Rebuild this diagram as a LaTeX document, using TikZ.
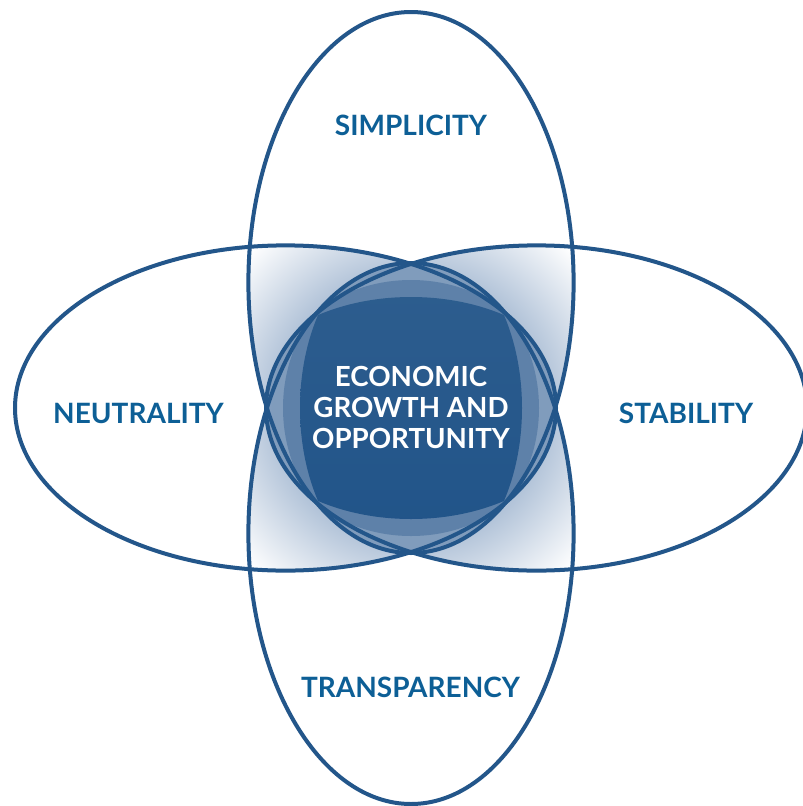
\documentclass[tikz,border=0pt]{standalone}
\usepackage{fontspec}
\setmainfont{Lato}
\newlength{\du}
\setlength{\du}{1pt}
\definecolor{ringblue}{rgb}{0.137255, 0.337255, 0.541176}
\definecolor{labelblue}{rgb}{0.050980, 0.372549, 0.588235}
\definecolor{coreblue}{rgb}{0.117647, 0.309804, 0.521569}
\definecolor{coretop}{rgb}{0.176471, 0.364706, 0.556863}
\definecolor{corebottom}{rgb}{0.129412, 0.329412, 0.537255}
\definecolor{glowblue}{rgb}{0.701961, 0.768627, 0.850980}
\pgfdeclareradialshading{centreglow}{\pgfpointorigin}{color(0bp)=(glowblue); color(15bp)=(glowblue); color(24.5bp)=(white); color(50bp)=(white)}
\tikzset{
  ringline/.style={draw=ringblue, line width=4.000000\du},
  corering/.style={fill=coreblue, fill opacity=0.340000},
  pillar/.style={text=labelblue, font=\fontsize{28}{31}\selectfont\bfseries, inner sep=0pt, anchor=base},
  goal/.style={text=white, font=\fontsize{27.7}{31}\selectfont\bfseries, align=center, inner sep=0pt}
}

\begin{document}
\begin{tikzpicture}
\pgftransformyscale{-1.000000}
\useasboundingbox (0\du,0\du) rectangle (803\du,806\du);
\fill[white] (0\du,0\du) rectangle (803\du,806\du);
% glow where the ovals overlap
\begin{scope}
\clip (411\du,282.5\du) ellipse [x radius=162.6\du, y radius=270.5\du] (411\du,533.5\du) ellipse [x radius=162.6\du, y radius=270.5\du];
\clip (285.5\du,408\du) ellipse [x radius=270.5\du, y radius=162.6\du] (536.5\du,408\du) ellipse [x radius=270.5\du, y radius=162.6\du];
\shade[shading=centreglow] (411\du,408\du) circle (230\du);
\end{scope}
\fill[corering] (411\du,408\du) ellipse [x radius=144\du, y radius=128\du];
\fill[corering] (411\du,408\du) ellipse [x radius=128\du, y radius=144\du];
\begin{scope}
\clip (411\du,408\du) ellipse [x radius=170\du, y radius=111\du];
\clip (411\du,408\du) ellipse [x radius=111\du, y radius=170\du];
\shade[top color=coretop, bottom color=corebottom] (290\du,290\du) rectangle (530\du,530\du);
\end{scope}
\draw[ringline] (411\du,282.5\du) ellipse [x radius=162.6\du, y radius=270.5\du];
\draw[ringline] (411\du,533.5\du) ellipse [x radius=162.6\du, y radius=270.5\du];
\draw[ringline] (285.5\du,408\du) ellipse [x radius=270.5\du, y radius=162.6\du];
\draw[ringline] (536.5\du,408\du) ellipse [x radius=270.5\du, y radius=162.6\du];
\node[pillar] (simplicity) at (411\du,135\du) {SIMPLICITY};
\node[pillar] (transparency) at (410.5\du,697\du) {TRANSPARENCY};
\node[pillar] (neutrality) at (138.5\du,423\du) {NEUTRALITY};
\node[pillar] (stability) at (686\du,423\du) {STABILITY};
\node[goal] (growth) at (411\du,407.5\du) {ECONOMIC\\GROWTH AND\\OPPORTUNITY};
\end{tikzpicture}
\end{document}
